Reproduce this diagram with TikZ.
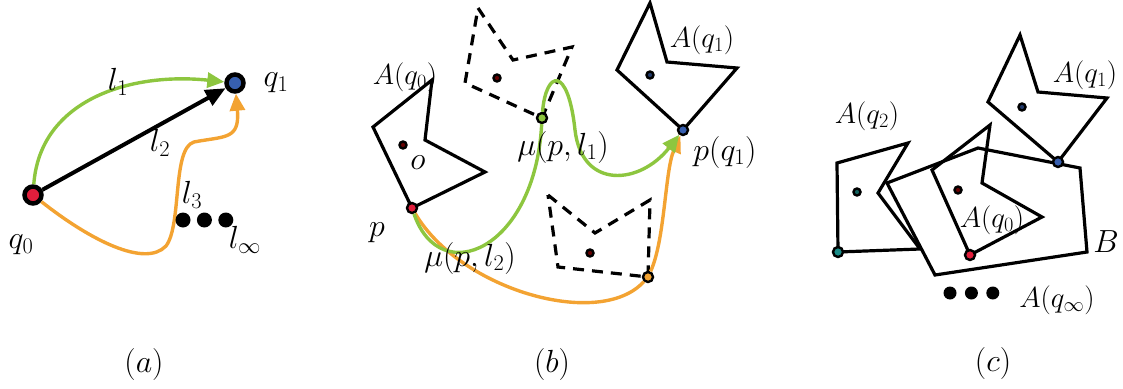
\RequirePackage{fix-cm}
\documentclass[tikz,border=0pt]{standalone}
\usepackage{amsmath,amssymb}
\usepackage{tikz}
\usetikzlibrary{arrows.meta,positioning}
\definecolor{lgreen}{RGB}{141,198,63}
\definecolor{lorange}{RGB}{243,163,50}
\definecolor{ptred}{RGB}{225,30,60}
\definecolor{ptblue}{RGB}{55,95,175}
\definecolor{ptteal}{RGB}{25,140,135}

\begin{document}
\begin{tikzpicture}[x=1pt,y=-1pt,
  lbl/.style={font=\fontsize{32}{36}\selectfont,inner sep=0pt},
  albl/.style={font=\fontsize{29}{33}\selectfont,inner sep=0pt},
  poly/.style={draw,line width=3.2pt,line join=miter},
  ghost/.style={poly,dash pattern=on 11pt off 8pt},
  gpath/.style={draw=lgreen,line width=3.4pt,-{Triangle[length=17pt,width=15pt]}},
  opath/.style={draw=lorange,line width=3.4pt,-{Triangle[length=17pt,width=15pt]}},
  bigpt/.style={circle,draw,line width=4.5pt,minimum size=17pt,inner sep=0pt},
  pt/.style={circle,draw,line width=2.4pt,minimum size=10pt,inner sep=0pt},
  ctr/.style={circle,draw,line width=2.4pt,fill=black!60!red,minimum size=7pt,inner sep=0pt},
  dot/.style={circle,fill=black,minimum size=15pt,inner sep=0pt}]
\useasboundingbox (0,0) rectangle (1123,388);

% (a)
\node[bigpt,fill=ptred] (q0) at (33,195) {};
\node[bigpt,fill=ptblue] (q1) at (235,83) {};
\draw[gpath] (q0) .. controls (40,100) and (130,72) .. (q1);
\draw[line width=4pt,-{Triangle[length=20pt,width=17pt]}] (q0) -- (q1);
\draw[opath] (q0) .. controls (90,240) and (145,268) .. (166,246) .. controls (182,225) and (172,148) .. (194,142) .. controls (225,136) and (240,140) .. (q1);
\node[lbl] (q0l) at (21,245) {$q_0$};
\node[lbl] (q1l) at (276,83) {$q_1$};
\node[lbl] (l1) at (118,82) {$l_1$};
\node[lbl] (l2) at (160,143) {$l_2$};
\node[lbl] (l3) at (192,195) {$l_3$};
\node[dot] (d1) at (183,220) {};
\node[dot,right=6pt of d1] (d2) {};
\node[dot,right=6pt of d2] (d3) {};
\node[lbl] (linf) at (245,240) {$l_\infty$};
\node[lbl] (capa) at (144,364) {$(a)$};

% (b)
\draw[poly] (432,80) -- (425,140) -- (485,172) -- (412,208) -- (373,127) -- cycle;
\draw[ghost] (478,8) -- (513,60) -- (572,47) -- (542,118) -- (465,83) -- cycle;
\draw[ghost] (548,195) -- (595,233) -- (650,200) -- (648,277) -- (558,267) -- cycle;
\draw[poly] (650,3) -- (667,62) -- (737,68) -- (683,130) -- (617,70) -- cycle;
\node[ctr] (o0) at (403,145) {};
\node[ctr] (o1) at (497,78) {};
\node[ctr] (o2) at (590,253) {};
\node[ctr,fill=ptblue!60!black] (o3) at (650,75) {};
\node[pt,fill=ptred] (p) at (412,208) {};
\node[pt,fill=lgreen] (mu1) at (542,118) {};
\node[pt,fill=lorange] (mu2) at (648,277) {};
\node[pt,fill=ptblue] (pq1) at (683,130) {};
\draw[opath] (p) .. controls (460,290) and (600,330) .. (mu2) .. controls (665,240) and (665,170) .. (pq1);
\draw[gpath] (p) .. controls (440,290) and (535,250) .. (mu1) .. controls (546,70) and (568,65) .. (575,130) .. controls (582,190) and (640,185) .. (pq1);
\node[albl] (aq0b) at (405,77) {$A(q_0)$};
\node[lbl] (ol) at (418,163) {$o$};
\node[lbl] (pl) at (377,233) {$p$};
\node[lbl] (mu2l) at (470,258) {$\mu(p,l_2)$};
\node[lbl] (mu1l) at (563,147) {$\mu(p,l_1)$};
\node[albl] (aq1b) at (702,40) {$A(q_1)$};
\node[lbl] (pq1l) at (725,152) {$p(q_1)$};
\node[lbl] (capb) at (552,364) {$(b)$};

% (c)
\draw[poly] (838,252) -- (837,163) -- (908,143) -- (878,193) -- (920,249) -- cycle;
\draw[poly] (887,183) -- (978,148) -- (1080,168) -- (1087,252) -- (935,275) -- cycle;
\draw[poly] (990,125) -- (982,183) -- (1042,217) -- (970,255) -- (932,170) -- cycle;
\draw[poly] (1020,35) -- (1038,92) -- (1107,98) -- (1058,162) -- (988,102) -- cycle;
\node[ctr,fill=ptteal!70!black] (c2) at (857,192) {};
\node[ctr] (c0) at (958,190) {};
\node[ctr,fill=ptblue!60!black] (c1) at (1022,107) {};
\node[pt,fill=ptteal] (r2) at (838,252) {};
\node[pt,fill=ptred] (r0) at (970,255) {};
\node[pt,fill=ptblue] (r1) at (1058,162) {};
\node[albl] (aq2c) at (867,116) {$A(q_2)$};
\node[albl] (aq1c) at (1085,75) {$A(q_1)$};
\node[albl] (aq0c) at (992,220) {$A(q_0)$};
\node[lbl] (bl) at (1106,242) {$B$};
\node[dot,minimum size=13pt] (e1) at (950,293) {};
\node[dot,minimum size=13pt,right=8pt of e1] (e2) {};
\node[dot,minimum size=13pt,right=8pt of e2] (e3) {};
\node[albl] (aqinf) at (1057,300) {$A(q_\infty)$};
\node[lbl] (capc) at (993,363) {$(c)$};
\end{tikzpicture}
\end{document}
